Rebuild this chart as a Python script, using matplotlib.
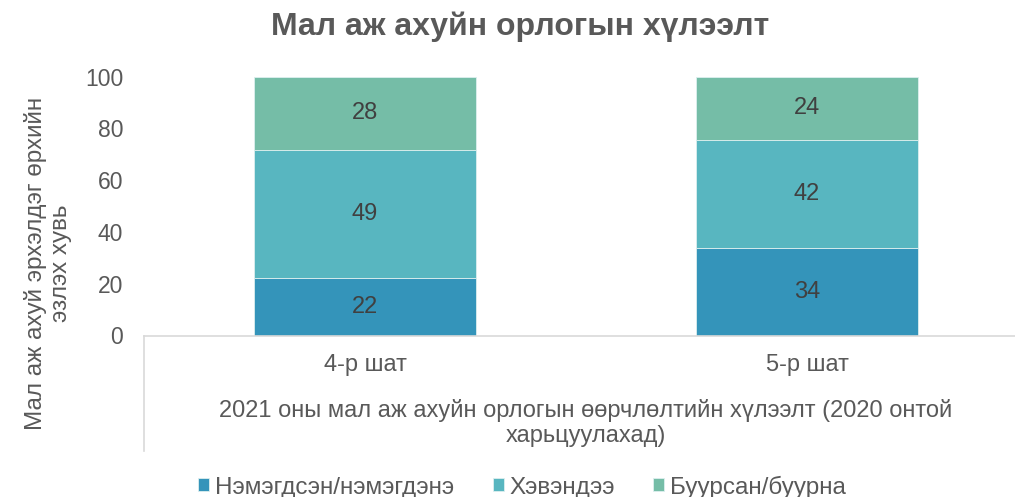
import numpy as np
import matplotlib.pyplot as plt
from matplotlib.lines import Line2D

plt.rcParams['font.family'] = ['Liberation Sans', 'DejaVu Sans']

# ---------- Data ----------
categories = ["4-р шат", "5-р шат"]
series_names = ["Нэмэгдсэн/нэмэгдэнэ", "Хэвэндээ", "Буурсан/буурна"]
increased = [22.2, 33.8]
same = [49.4, 41.8]
decreased = [28.4, 24.4]
colors = ["#3494BA", "#58B6C0", "#75BDA7"]
# --------------------------

W, H = 1015, 497
fig = plt.figure(figsize=(W / 100, H / 100), dpi=100)

# axes in pixel coords: left 144, right 1015 (cropped), top 76.7, bottom 335.5
left, right, top, bottom = 144, 1015, 76.7, 335.5
ax = fig.add_axes([left / W, 1 - bottom / H, (right - left) / W, (bottom - top) / H])

x = np.arange(len(categories))
step = 442  # px per category
bar_w = 222 / step
gray = "#595959"

bottoms = np.zeros(len(categories))
for vals, name, col in zip([increased, same, decreased], series_names, colors):
    ax.bar(x, vals, bar_w, bottom=bottoms, color=col, label=name,
           edgecolor="#DDEFEF", linewidth=0.6)
    for xi, v, b in zip(x, vals, bottoms):
        ax.text(xi, b + v / 2, f"{round(v):d}", ha="center", va="center",
                fontsize=17, color="#404040")
    bottoms += np.array(vals)

ax.set_ylim(0, 100)
ax.set_yticks([0, 20, 40, 60, 80, 100])
ax.set_xlim(-0.5, (right - left) / step - 0.5)
ax.set_xticks(x)
ax.set_xticklabels(categories)
ax.tick_params(axis="x", length=0, pad=13, labelsize=17, labelcolor=gray)
ax.tick_params(axis="y", length=0, pad=15, labelsize=16.5, labelcolor=gray)

for s in ["top", "right", "left"]:
    ax.spines[s].set_visible(False)
ax.spines["bottom"].set_color("#D9D9D9")
ax.spines["bottom"].set_linewidth(1.2)

# category group separator line on the left
fig.add_artist(Line2D([left / W, left / W], [1 - bottom / H, 1 - 451 / H],
                      color="#D9D9D9", lw=1.2))

# axis titles
fig.text(586 / W, 1 - 423 / H,
         "2021 оны мал аж ахуйн орлогын өөрчлөлтийн хүлээлт (2020 онтой\nхарьцуулахад)",
         ha="center", va="center", fontsize=17, color=gray, linespacing=1.15)
fig.text(48 / W, 1 - 263 / H, "Мал аж ахуй эрхэлдэг өрхийн\nэзлэх хувь",
         rotation=90, ha="center", va="center", fontsize=17.5, color=gray,
         multialignment="center", linespacing=1.2)

fig.suptitle("Мал аж ахуйн орлогын хүлээлт", x=520 / W, y=1 - 27 / H,
             va="center", fontsize=23, fontweight="bold", color=gray)

fig.legend(loc="center", bbox_to_anchor=(522 / W, 1 - 487 / H), ncol=3,
           frameon=False, fontsize=17.5, labelcolor=gray,
           handlelength=0.45, handleheight=0.45, handletextpad=0.22,
           columnspacing=1.6, borderpad=0, borderaxespad=0)

fig.savefig("out.png", dpi=100)
